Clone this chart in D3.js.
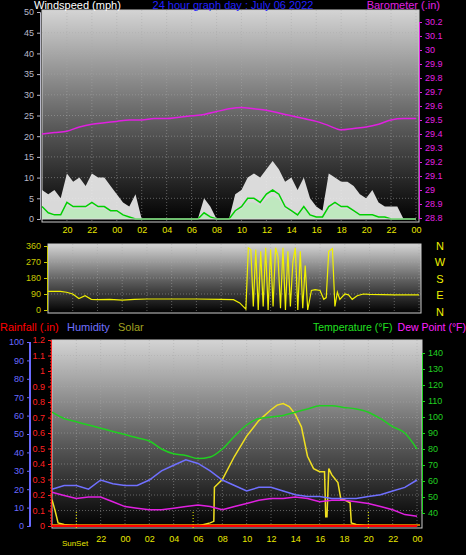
<!DOCTYPE html>
<html><head><meta charset="utf-8">
<script src="https://cdn.jsdelivr.net/npm/d3@7"></script>
<style>body{margin:0;background:#000}svg{display:block;font-family:"Liberation Sans",Arial,sans-serif}</style>
</head><body><svg id="c" width="466" height="555"></svg>
<script>
// time in hours from 00:00 of previous day (18 = 18:00, 48 = 00:00 next midnight)
const hourTicks = [20,22,24,26,28,30,32,34,36,38,40,42,44,46,48];
const hourT = d3.range(18,49,1);
const halfT = d3.range(18,48.01,0.5);
const baro = [29.40,29.41,29.42,29.45,29.47,29.48,29.49,29.50,29.50,29.51,29.51,29.52,29.53,29.54,29.56,29.58,29.59,29.58,29.57,29.55,29.53,29.51,29.49,29.46,29.43,29.44,29.45,29.47,29.50,29.51,29.51];
const gust = [7,6,7,5,11,9,10,8,11,10,10,8,6,4,3,6, 0,0,0,0,0,0,0,0,0,0, 5,3,0,0,0, 6,7,10,11,10,12,14,12,9,10,7,10,5,3,2,11,10,9,9,8,6,5,7,4,3,3,3, 0,0,0];
const windAvg = [3,1.5,1,1,4,3,3,3,4,3,3,2,2,1,0.5,0, 0,0,0,0,0,0,0,0,0,0, 1.5,0.5,0,0,0, 2,3,5,5,4,6,7,6,3,2,1,3,1,0.5,0.5,3,4,3,3,2,1,1,1,0.5,0.5,0,0, 0,0,0];
const dirT = [18,19,19.5,20,20.5,21,21.5,22,23,24,25,26,28,30,32,33,33.5,34,34.2,34.4,34.6,34.8,35,35.2,35.4,35.6,35.8,36,36.2,36.4,36.6,36.8,37,37.2,37.4,37.6,37.8,38,38.2,38.4,38.6,38.8,39,39.3,39.6,40,40.3,40.5,40.7,41,41.2,41.4,41.6,42,42.3,42.6,43,43.5,44,46,48];
const dirV = [105,105,100,90,65,80,60,58,60,55,60,62,62,62,60,58,40,5,350,340,20,340,0,330,20,350,0,340,20,350,300,10,350,0,330,20,270,350,0,330,10,250,0,110,115,110,60,70,330,345,20,100,60,90,85,60,80,90,88,85,85];
const tempF = [103,99,97,95,93,91,89,87,85,80,77,76,74,75,80,88,95,99,100,101,103,105,107,107,106,105,103,99,94,90,80];
const humid = [20,22,22,20,25,23,22,22,25,30,33,36,34,30,25,22,19,21,21,19,17,16,16,15,15,15,16,17,19,21,25];
const dewF = [53,51,49,50,50,47,44,43,42,42,43,44,45,44,42,44,46,48,49,49,50,49,47,48,48,47,46,44,42,39,38];
const solarT = [18,18.25,18.5,19,20,30,31,31.3,31.35,32,33,34,35,36,36.5,37,37.5,38,38.5,39,39.5,40,40.4,40.5,40.6,40.75,41,41.5,41.75,42,42.5,42.6,43,44,48];
const solarV = [170,100,20,10,0,0,20,30,250,300,450,580,680,750,780,790,770,720,640,450,370,350,350,60,60,370,330,280,170,170,150,20,10,0,0];
const rain = hourT.map(()=>0);
const fmtH = h => String(h%24).padStart(2,"0");

const svg = d3.select("#c");
const defs = svg.append("defs");
const g = defs.append("linearGradient").attr("id","bg").attr("x1",0).attr("x2",0).attr("y1",0).attr("y2",1);
g.append("stop").attr("offset","0").attr("stop-color","#d4d4d4");
g.append("stop").attr("offset","0.55").attr("stop-color","#5a5a5a");
g.append("stop").attr("offset","1").attr("stop-color","#000");

function panel(x0,x1,y0,y1){
  svg.append("rect").attr("x",x0).attr("y",y0).attr("width",x1-x0).attr("height",y1-y0).attr("fill","url(#bg)").attr("stroke","#ccc");
}
function vgrid(x,y0,y1){
  svg.append("g").selectAll("line").data(hourTicks).join("line")
    .attr("x1",d=>x(d)).attr("x2",d=>x(d)).attr("y1",y0).attr("y2",y1)
    .attr("stroke","#aaa").attr("stroke-opacity",0.5).attr("stroke-dasharray","1,2");
}
function hgrid(y,vals,x0,x1){
  svg.append("g").selectAll("line").data(vals).join("line")
    .attr("x1",x0).attr("x2",x1).attr("y1",d=>y(d)).attr("y2",d=>y(d))
    .attr("stroke","#aaa").attr("stroke-opacity",0.5).attr("stroke-dasharray","1,2");
}
function styleAxis(sel,col){
  sel.selectAll("text").attr("fill",col).style("font-size","9px");
  sel.selectAll("line").attr("stroke",col);
  sel.select(".domain").attr("stroke",col);
  return sel;
}

// ---------- Top panel ----------
const xT = d3.scaleLinear().domain([18,48]).range([42,416]);
const yW = d3.scaleLinear().domain([0,50]).range([219,12]);
const yB = d3.scaleLinear().domain([28.8,30.2]).range([218,22]);
panel(42,419,10,222);
vgrid(xT,10,222); hgrid(yW,d3.range(5,50,5),42,419);
svg.append("path").datum(halfT).attr("fill","#f0f0f0").attr("fill-opacity",0.9)
  .attr("d",d3.area().x(d=>xT(d)).y0(yW(0)).y1((d,i)=>yW(gust[i])));
svg.append("path").datum(halfT).attr("fill","#bfe8bf")
  .attr("d",d3.area().x(d=>xT(d)).y0(yW(0)).y1((d,i)=>yW(windAvg[i]*0.8)));
svg.append("path").datum(halfT).attr("fill","none").attr("stroke","#00d000").attr("stroke-width",1.5)
  .attr("d",d3.line().x(d=>xT(d)).y((d,i)=>yW(windAvg[i])));
svg.append("line").attr("x1",42).attr("x2",416).attr("y1",yW(0)).attr("y2",yW(0)).attr("stroke","#ddd");
svg.append("path").datum(hourT).attr("fill","none").attr("stroke","#e020e0").attr("stroke-width",1.5)
  .attr("d",d3.line().x(d=>xT(d)).y((d,i)=>yB(baro[i])).curve(d3.curveMonotoneX));
styleAxis(svg.append("g").attr("transform","translate(40,0)").call(d3.axisLeft(yW).tickValues(d3.range(0,51,5)).tickSize(3)),"#b8b8c8");
styleAxis(svg.append("g").attr("transform","translate(419,0)").call(d3.axisRight(yB).tickValues(d3.range(28.8,30.21,0.1)).tickFormat(d=>+d.toFixed(1)).tickSize(3)),"#e020e0");
styleAxis(svg.append("g").attr("transform","translate(0,224)").call(d3.axisBottom(xT).tickValues(hourTicks).tickFormat(fmtH).tickSize(0)),"#e8e800").select(".domain").remove();
svg.append("text").attr("x",34).attr("y",9).attr("fill","#fff").style("font-size","11px").text("Windspeed (mph)");
svg.append("text").attr("x",233).attr("y",9).attr("text-anchor","middle").attr("fill","#2020ff").style("font-size","11px").text("24 hour graph day : July 06 2022");
svg.append("text").attr("x",440).attr("y",9).attr("text-anchor","end").attr("fill","#e020e0").style("font-size","11px").text("Barometer (.in)");

// ---------- Middle panel ----------
const xM = d3.scaleLinear().domain([18,48]).range([48,419]);
const yD = d3.scaleLinear().domain([0,360]).range([310,246]);
panel(48,421,244,313);
vgrid(xM,244,313); hgrid(yD,[90,180,270],48,421);
svg.append("path").datum(dirT).attr("fill","none").attr("stroke","#f0f000").attr("stroke-width",1.2)
  .attr("d",d3.line().x(d=>xM(d)).y((d,i)=>yD(dirV[i])));
styleAxis(svg.append("g").attr("transform","translate(47,0)").call(d3.axisLeft(yD).tickValues([0,90,180,270,360]).tickSize(3)),"#c8c800");
svg.append("g").selectAll("text").data(["N","W","S","E","N"]).join("text")
  .attr("x",440).attr("y",(d,i)=>[250,266,283,299,316][i]).attr("text-anchor","middle")
  .attr("fill","#f0f000").style("font-size","11px").text(d=>d);

// ---------- Bottom panel ----------
const xB = d3.scaleLinear().domain([18,48]).range([52,417]);
const yH = d3.scaleLinear().domain([0,100]).range([526,342]);
const yR = d3.scaleLinear().domain([0,1.2]).range([526,340]);
const yS = d3.scaleLinear().domain([0,1200]).range([526,340]);
const yTF = d3.scaleLinear().domain([40,140]).range([513,353]);
panel(52,422,340,528);
vgrid(xB,340,528); hgrid(yR,d3.range(0.1,1.2,0.1),52,422);
svg.append("g").selectAll("line").data([20,29.6,44]).join("line")
  .attr("x1",d=>xB(d)).attr("x2",d=>xB(d)).attr("y1",512).attr("y2",528)
  .attr("stroke","#f0f000").attr("stroke-dasharray","1,2");
svg.append("path").datum(solarT).attr("fill","none").attr("stroke","#f0e020").attr("stroke-width",1.5)
  .attr("d",d3.line().x(d=>xB(d)).y((d,i)=>yS(solarV[i])));
svg.append("path").datum(hourT).attr("fill","none").attr("stroke","#7070ff").attr("stroke-width",1.5)
  .attr("d",d3.line().x(d=>xB(d)).y((d,i)=>yH(humid[i])));
svg.append("path").datum(hourT).attr("fill","none").attr("stroke","#e020e0").attr("stroke-width",1.5)
  .attr("d",d3.line().x(d=>xB(d)).y((d,i)=>yTF(dewF[i])));
svg.append("path").datum(hourT).attr("fill","none").attr("stroke","#20d020").attr("stroke-width",1.5)
  .attr("d",d3.line().x(d=>xB(d)).y((d,i)=>yTF(tempF[i])).curve(d3.curveMonotoneX));
svg.append("line").attr("x1",52).attr("x2",420).attr("y1",yR(0)-1).attr("y2",yR(0)-1).attr("stroke","#ff9900").attr("stroke-width",1.5);
svg.append("path").datum(hourT).attr("fill","none").attr("stroke","#ff0000").attr("stroke-width",2)
  .attr("d",d3.line().x(d=>xB(d)).y((d,i)=>yR(rain[i])));
styleAxis(svg.append("g").attr("transform","translate(30,0)").call(d3.axisLeft(yH).tickValues(d3.range(0,101,10)).tickSize(3)),"#6a6aff");
svg.append("line").attr("x1",30).attr("x2",30).attr("y1",342).attr("y2",526).attr("stroke","#6a6aff").attr("stroke-width",2);
styleAxis(svg.append("g").attr("transform","translate(51,0)").call(d3.axisLeft(yR).tickValues(d3.range(0,1.21,0.1)).tickFormat(d=>+d.toFixed(1)).tickSize(3)),"#ff2020");
svg.append("line").attr("x1",51).attr("x2",51).attr("y1",340).attr("y2",526).attr("stroke","#ff3030").attr("stroke-dasharray","2,1");
styleAxis(svg.append("g").attr("transform","translate(422,0)").call(d3.axisRight(yTF).tickValues(d3.range(40,141,10)).tickSize(3)),"#20d020");
styleAxis(svg.append("g").attr("transform","translate(0,533)").call(d3.axisBottom(xB).tickValues(hourTicks.slice(1)).tickFormat(fmtH).tickSize(0)),"#e8e800").select(".domain").remove();
svg.append("text").attr("x",75).attr("y",546).attr("text-anchor","middle").attr("fill","#e8e800").style("font-size","8px").text("SunSet");
svg.append("text").attr("x",0).attr("y",331).attr("fill","#ff0000").style("font-size","11px").text("Rainfall (.in)");
svg.append("text").attr("x",67).attr("y",331).attr("fill","#7070ff").style("font-size","11px").text("Humidity");
svg.append("text").attr("x",118).attr("y",331).attr("fill","#a0a020").style("font-size","11px").text("Solar");
svg.append("text").attr("x",313).attr("y",331).attr("fill","#20e020").style("font-size","10.5px").text("Temperature (°F)");
svg.append("text").attr("x",466).attr("y",331).attr("text-anchor","end").attr("fill","#ff20ff").style("font-size","10.5px").text("Dew Point (°F)");
</script></body></html>
